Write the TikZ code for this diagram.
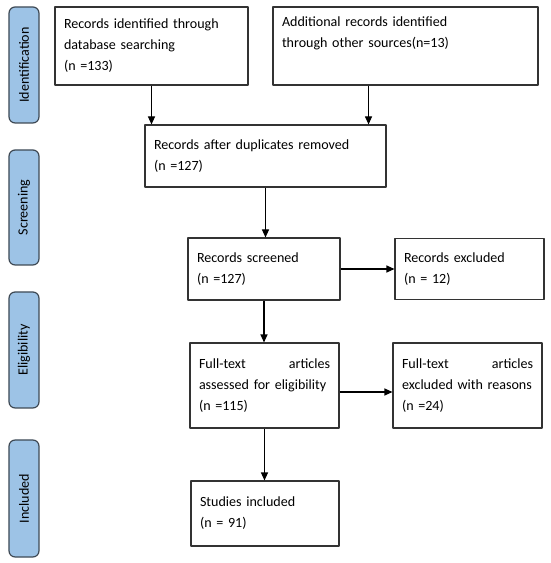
\documentclass[tikz,border=0pt]{standalone}
\usepackage{fontspec}
\setmainfont{Carlito}
\usepackage{tikz}
\usetikzlibrary{arrows.meta}
\definecolor{stageblue}{HTML}{9DC3E6}
\definecolor{stageline}{HTML}{3F4A55}
\definecolor{boxline}{HTML}{333333}
\tikzset{
  every picture/.style={font=\fontsize{8}{11.9}\selectfont, line join=round, >={Triangle[length=4.6pt,width=4pt]}},
  stage/.style={draw=stageline, line width=0.7pt, fill=stageblue, rounded corners=3.5pt,
    minimum height=0.60cm, inner sep=0pt, rotate=90},
  recbox/.style={draw=boxline, line width=0.6pt, align=left, inner xsep=0.18cm, inner ysep=0pt},
  flow/.style={->, line width=0.7pt},
}
\begin{document}
\begin{tikzpicture}
\useasboundingbox (0,0) rectangle (11.00,11.26);
% stage labels
\node[stage, minimum width=2.32cm] (sid) at (0.48,9.96) {Identification};
\node[stage, minimum width=2.30cm] (ssc) at (0.48,7.11) {Screening};
\node[stage, minimum width=2.32cm] (sel) at (0.48,4.26) {Eligibility};
\node[stage, minimum width=2.34cm] (sin) at (0.48,1.29) {Included};
% records
\node[recbox, text width=3.50cm, minimum height=1.56cm] (dbrec) at (3.03,10.34)
  {Records identified through\\ database searching\\ (n =133)};
\node[recbox, text width=4.94cm, minimum height=1.56cm] (othrec) at (8.11,10.34)
  {Additional records identified\\ through other sources(n=13)\\ \strut};
\node[recbox, text width=4.46cm, minimum height=1.24cm] (dup) at (5.31,8.14)
  {Records after duplicates removed\\ (n =127)};
\node[recbox, text width=2.68cm, minimum height=1.24cm] (scr) at (5.28,5.88)
  {Records screened\\ (n =127)};
\node[recbox, text width=2.62cm, minimum height=1.22cm] (exc) at (9.39,5.88)
  {Records excluded\\ (n = 12)};
\node[recbox, text width=2.62cm, minimum height=1.70cm] (full) at (5.29,3.55)
  {Full-text\hfill articles\\ assessed for eligibility\\ (n =115)};
\node[recbox, text width=2.62cm, minimum height=1.70cm] (fexc) at (9.35,3.55)
  {Full-text\hfill articles\\ excluded with reasons\\ (n =24)};
\node[recbox, text width=2.60cm, minimum height=1.30cm] (incl) at (5.30,0.99)
  {Studies included\\ (n = 91)};
% connectors
\coordinate (dupin) at ([xshift=-0.36cm]dup.north east);
\draw[flow] (dbrec.south) -- (dbrec.south |- dup.north);
\draw[flow] (othrec.south -| dupin) -- (dupin);
\draw[flow] (dup.south) -- (dup.south |- scr.north);
\draw[flow] (scr.east) -- (scr.east -| exc.west);
\draw[flow] (scr.south) -- (scr.south |- full.north);
\draw[flow] ([yshift=-0.13cm]full.east) -- ([yshift=-0.13cm]full.east -| fexc.west);
\draw[flow] (full.south) -- (full.south |- incl.north);
\end{tikzpicture}
\end{document}
